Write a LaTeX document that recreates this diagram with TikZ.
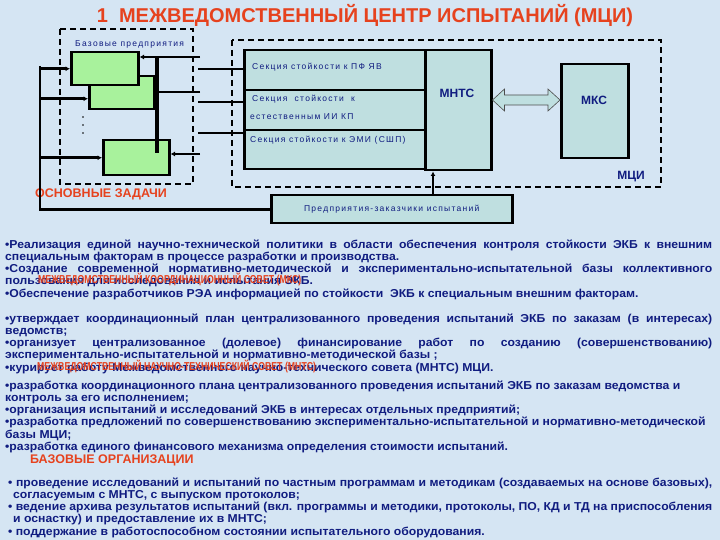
\documentclass[tikz,border=0pt]{standalone}
\usepackage{fontspec}
\setmainfont{Liberation Sans}
\newfontfamily\bodyfont[UprightFont={* Bold},FakeStretch=1.06]{Liberation Sans}
\newfontfamily\titlefont[UprightFont={* Bold}]{Liberation Sans}
\newfontfamily\condfont[UprightFont={* Bold},FakeStretch=0.76]{Liberation Sans}
\newfontfamily\smallfont[LetterSpace=15]{Liberation Sans}
\usepackage{tikz}
\usetikzlibrary{calc,arrows.meta,positioning}
\definecolor{bgblue}{HTML}{D5E5F3}
\definecolor{navyx}{HTML}{101C80}
\definecolor{redx}{HTML}{E6421E}
\definecolor{greenx}{HTML}{A8F29C}
\definecolor{tealx}{HTML}{BFDFE0}
\newcommand\topstrut{\rule{0pt}{10pt}}
\newcommand\jl[2][707pt]{\hbox to #1{#2}}
\tikzset{
  box/.style={draw=black,line width=2.5pt,anchor=north west,inner sep=0pt},
  gbox/.style={box,fill=greenx},
  tbox/.style={box,fill=tealx},
  dashbox/.style={draw=black,line width=1.6pt,dash pattern=on 6pt off 4pt},
  conn/.style={draw=black,line width=2.6pt},
  tip/.style={-{Latex[length=4.5pt,width=5pt]}},
  lbl/.style={font=\smallfont\fontsize{8.5}{10}\selectfont,text=navyx,inner sep=0pt},
  big/.style={font=\titlefont\fontsize{12}{14}\selectfont,text=navyx,inner sep=0pt},
  body/.style={font=\bodyfont\fontsize{11.5}{12.2}\selectfont,text=navyx,align=left,
    anchor=north west,inner sep=0pt},
  head/.style={font=\titlefont\fontsize{12.5}{14}\selectfont,text=redx,anchor=west,inner sep=0pt},
  over/.style={font=\condfont\fontsize{11.5}{13}\selectfont,text=redx,anchor=west,inner sep=0pt}
}
\begin{document}
\begin{tikzpicture}[x=1pt,y=-1pt]
\useasboundingbox (0,0) rectangle (720,540);
\fill[bgblue] (0,0) rectangle (720,540);
% title
\node[font=\titlefont\fontsize{20}{24}\selectfont,text=redx,inner sep=0pt] (title) at (365,16)
  {1\ \ МЕЖВЕДОМСТВЕННЫЙ ЦЕНТР ИСПЫТАНИЙ (МЦИ)};
% dashed frames
\draw[dashbox] (60,29) rectangle (193,184);
\draw[dashbox] (232,40) rectangle (661,187);
\node[lbl,anchor=west] (baz) at (75,44) {Базовые предприятия};
% base enterprises
\node[gbox,minimum width=65pt,minimum height=33pt] (bp2) at (88,75) {};
\node[gbox,minimum width=67pt,minimum height=33pt] (bp1) at (70,51) {};
\node[gbox,minimum width=66pt,minimum height=35pt] (bp3) at (102,139) {};
\foreach \yy in {117,125,133} \fill (83,\yy) circle (0.9pt);
% sections, MNTS, MKS
\node[tbox,minimum width=181pt,minimum height=40pt] (sec1) at (243,49) {};
\node[tbox,minimum width=181pt,minimum height=40pt] (sec2) at (243,89) {};
\node[tbox,minimum width=181pt,minimum height=39pt] (sec3) at (243,129) {};
\node[tbox,minimum width=66pt,minimum height=120pt] (mnts) at (424,49) {};
\node[tbox,minimum width=67pt,minimum height=94pt] (mks) at (560,63) {};
\node[tbox,minimum width=241pt,minimum height=28pt] (zak) at (270,194) {};
\node[lbl,anchor=west] (sec1t) at (252,67) {Секция стойкости к ПФ ЯВ};
\node[lbl,anchor=west] (sec2t) at (252,99) {Секция\ \ стойкости\ \ к};
\node[lbl,anchor=west] (sec2u) at (250,117) {естественным ИИ КП};
\node[lbl,anchor=west] (sec3t) at (250,140) {Секция стойкости к ЭМИ (СШП)};
\node[lbl] (zakt) at (zak.center) {Предприятия-заказчики испытаний};
\node[big] (mntst) at (457,93) {МНТС};
\node[big] (mkst) at (594,100) {МКС};
\node[big] (mci) at (631,177) {МЦИ};
% MNTS <-> MKS
\coordinate (da) at (0,100);
\path (mnts.east |- da) coordinate (dl) (mks.west |- da) coordinate (dr);
\draw[fill=tealx,draw=black!70,line width=0.6pt] (dl) -- ++(12,-11) -- ++(0,6) -- ($(dr)+(-12,-5)$)
  -- ++(0,-6) -- (dr) -- ++(-12,11) -- ++(0,-6) -- ($(dl)+(12,5)$) -- ++(0,6) -- cycle;
% red headings
\node[head] (zadh) at (35,194) {ОСНОВНЫЕ ЗАДАЧИ};
\node[head] (orgh) at (30,460) {БАЗОВЫЕ ОРГАНИЗАЦИИ};
% connectors
\coordinate (ltop) at (40,66);
\coordinate (r1) at (200,57); \coordinate (r2) at (200,92); \coordinate (r3) at (200,154);
\coordinate (s1) at (198,69); \coordinate (s2) at (198,102); \coordinate (s3) at (198,133);
\coordinate (bart) at (157,57); \coordinate (barb) at (157,153);
\coordinate (up) at (433,0);
\draw[conn] (ltop) |- (zak.west);
\draw[conn,tip] (bp1.west -| ltop) -- (bp1.west);
\draw[conn,tip] ([yshift=-6pt]bp2.west -| ltop) -- ([yshift=-6pt]bp2.west);
\draw[conn,tip] (bp3.west -| ltop) -- (bp3.west);
\draw[conn,tip] (r1) -- (r1 -| bp1.east);
\draw[conn] (r2) -- (r2 -| bart);
\draw[conn,tip] (r3) -- (r3 -| bp3.east);
\draw[black,line width=4.5pt] (bart) -- (barb);
\draw[conn] (s1) -- (s1 -| sec1.west);
\draw[conn] (s2) -- (s2 -| sec2.west);
\draw[conn] (s3) -- (s3 -| sec3.west);
\draw[conn,tip] (zak.north -| up) -- (mnts.south -| up);
% text blocks
\node[body] (zad) at (5,238) {\topstrut\jl{•Реализация единой научно-технической политики в области обеспечения контроля стойкости ЭКБ к внешним}\\
специальным факторам в процессе разработки и производства.\\
\jl{•Создание современной нормативно-методической и экспериментально-испытательной базы коллективного}\\
пользования для исследования и испытания ЭКБ.\\
•Обеспечение разработчиков РЭА информацией по стойкости\ \ ЭКБ к специальным внешним факторам.};
\node[over] (mksh) at (38,279) {МЕЖВЕДОМСТВЕННЫЙ КООРДИНАЦИОННЫЙ СОВЕТ (МКС)};
\node[body] (mksz) at (5,312) {\topstrut\jl{•утверждает координационный план централизованного проведения испытаний ЭКБ по заказам (в интересах)}\\
ведомств;\\
\jl{•организует централизованное (долевое) финансирование работ по созданию (совершенствованию)}\\
экспериментально-испытательной и нормативно-методической базы ;\\
•курирует работу Межведомственного научно-технического совета (МНТС) МЦИ.};
\node[over] (mntsh) at (37,366) {МЕЖВЕДОМСТВЕННЫЙ НАУЧНО-ТЕХНИЧЕСКИЙ СОВЕТ (МНТС)};
\node[body] (mntsz) at (5,379) {\topstrut•разработка координационного плана централизованного проведения испытаний ЭКБ по заказам ведомства и\\
контроль за его исполнением;\\
•организация испытаний и исследований ЭКБ в интересах отдельных предприятий;\\
•разработка предложений по совершенствованию экспериментально-испытательной и нормативно-методической\\
базы МЦИ;\\
•разработка единого финансового механизма определения стоимости испытаний.};
\node[body] (orgz) at (8,476) {\topstrut\jl[704pt]{• проведение исследований и испытаний по частным программам и методикам (создаваемых на основе базовых),}\\
\hspace*{5pt}согласуемым с МНТС, с выпуском протоколов;\\
\jl[704pt]{• ведение архива результатов испытаний (вкл. программы и методики, протоколы, ПО, КД и ТД на приспособления}\\
\hspace*{5pt}и оснастку) и предоставление их в МНТС;\\
• поддержание в работоспособном состоянии испытательного оборудования.};
\end{tikzpicture}
\end{document}
